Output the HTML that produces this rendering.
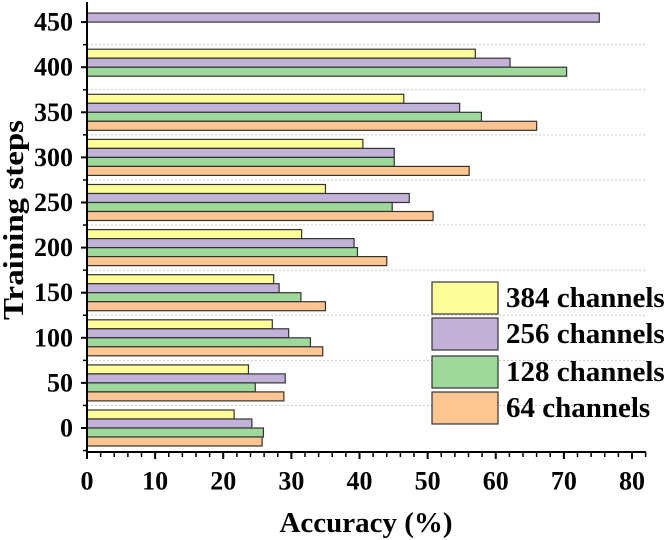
<!DOCTYPE html>
<html><head><meta charset="utf-8"><style>
html,body{margin:0;padding:0;background:#fff;}
svg{display:block;font-family:"Liberation Serif",serif;font-weight:bold;}
</style></head><body>
<svg id="chart" width="669" height="540" viewBox="0 0 669 540">
<g id="grid"></g>
<g id="bars"></g>
<g id="axes"></g>
<text x="14" y="220" transform="rotate(-90 14 220)" text-anchor="middle" dominant-baseline="central" font-size="29" textLength="200" lengthAdjust="spacingAndGlyphs">Training steps</text>
<text x="366" y="523" text-anchor="middle" dominant-baseline="central" font-size="29">Accuracy (%)</text>
<g id="legend"></g>
</svg>
<script>
const categories = [0,50,100,150,200,250,300,350,400,450];
const seriesNames = ["384 channels","256 channels","128 channels","64 channels"];
const s384 = [21.6,23.7,27.2,27.4,31.5,35.0,40.5,46.5,57.0,null];
const s256 = [24.2,29.1,29.6,28.2,39.2,47.3,45.1,54.7,62.1,75.2];
const s128 = [25.9,24.7,32.8,31.4,39.7,44.8,45.1,57.9,70.4,null];
const s64  = [25.7,28.9,34.6,35.0,44.0,50.8,56.1,66.0,null,null];
const xTicks = [0,10,20,30,40,50,60,70,80];
const colors = ["#fdfd9a","#c2b2d8","#9fd89b","#fbc692"];
const NS="http://www.w3.org/2000/svg";
const X0=87, X1=646, YTOP=2, YAX=452;
const xs = v => X0 + v*(632-87)/80;
const ys = s => 428 - s*0.902;
const BH=9;
function mk(tag,attrs,parent){const e=document.createElementNS(NS,tag);for(const k in attrs)e.setAttribute(k,attrs[k]);parent.appendChild(e);return e;}
const grid=document.getElementById('grid'), bars=document.getElementById('bars'), axes=document.getElementById('axes'), legend=document.getElementById('legend');
const all=[s384,s256,s128,s64];
for(let i=0;i<categories.length-1;i++){
  const y=(ys(categories[i])+ys(categories[i+1]))/2;
  const g=mk('line',{x1:X0,x2:X1,y1:y,y2:y,stroke:'#c8c8c8','stroke-width':1,'stroke-dasharray':'2,2'},grid);
  
  
}
categories.forEach((c,i)=>{
  const yc=ys(c);
  all.forEach((ser,k)=>{
    const v=ser[i]; if(v==null) return;
    const r=mk('rect',{x:X0,y:yc-2*BH+k*BH,width:xs(v)-X0,height:BH,fill:colors[k],stroke:'#333','stroke-width':1.2},bars);
    
    
  });
  const t=mk('text',{x:73,y:yc,'text-anchor':'end','dominant-baseline':'central','font-size':26},axes);
  t.textContent=c;
  
  
  mk('line',{x1:X0-6,x2:X0,y1:yc,y2:yc,stroke:'#000','stroke-width':2},axes);
});
for(let i=-1;i<categories.length;i++){
  const y=ys(categories[0]+ (i+0.5)*50);
  if(y<YTOP||y>YAX) continue;
  mk('line',{x1:X0-4,x2:X0,y1:y,y2:y,stroke:'#000','stroke-width':1.5},axes);
}
const ya=mk('line',{x1:X0,x2:X0,y1:YTOP,y2:YAX+1,stroke:'#000','stroke-width':2},axes);

const xa=mk('line',{x1:X0-1,x2:X1,y1:YAX,y2:YAX,stroke:'#000','stroke-width':2},axes);

for(let v=0;v<=82;v+=2){
  const major=v%10===0;
  mk('line',{x1:xs(v),x2:xs(v),y1:YAX,y2:YAX+(major?7:5),stroke:'#000','stroke-width':major?2:1.5},axes);
}
xTicks.forEach(v=>{
  const t=mk('text',{x:xs(v),y:481,'text-anchor':'middle','dominant-baseline':'central','font-size':26},axes);
  t.textContent=v;
  
  
});
const ly=[282,318,356,392];
seriesNames.forEach((n,k)=>{
  const r=mk('rect',{x:432,y:ly[k],width:66,height:32,fill:colors[k],stroke:'#333','stroke-width':1.2},legend);
  
  
  const t=mk('text',{x:506,y:ly[k]+16,'dominant-baseline':'central','font-size':29},legend);
  t.textContent=n;
  
  
});
</script>
</body></html>
